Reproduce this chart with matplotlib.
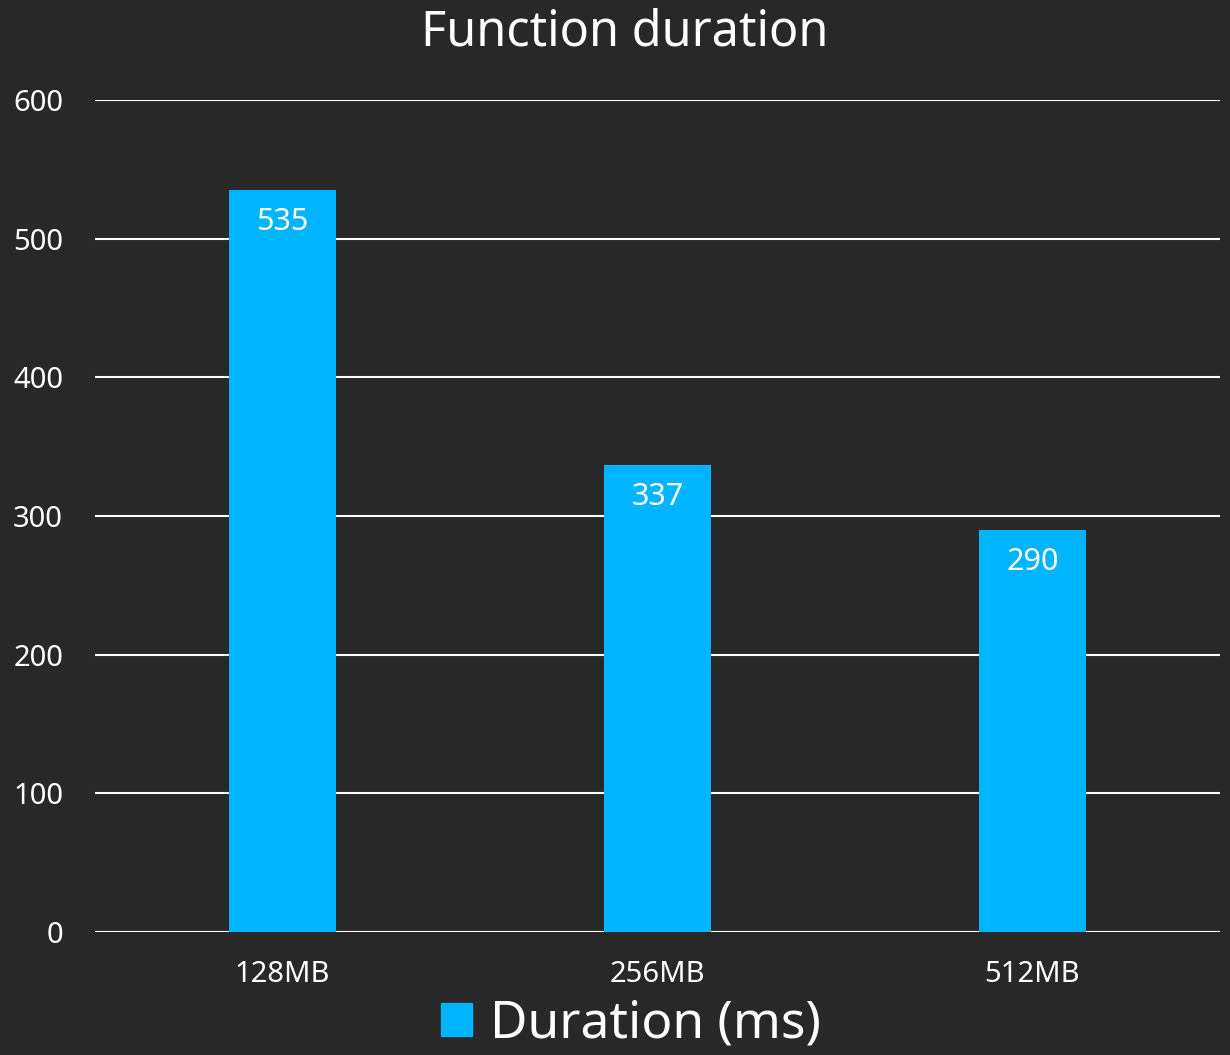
import matplotlib
matplotlib.use("Agg")
from matplotlib import pyplot as plt
from matplotlib.patches import Patch

categories = ["128MB", "256MB", "512MB"]
durations = [535, 337, 290]
yticks = [0, 100, 200, 300, 400, 500, 600]

bg = "#282828"
bar_color = "#00B4FF"

plt.rcParams["font.family"] = ["Noto Sans", "DejaVu Sans"]

fig = plt.figure(figsize=(12.3, 10.55), dpi=100, facecolor=bg)
ax = fig.add_axes([95 / 1230, 123 / 1055, 1125 / 1230, 832 / 1055])
ax.set_facecolor(bg)

x = range(len(categories))
bars = ax.bar(x, durations, width=0.283, color=bar_color, zorder=3)

for rect, v in zip(bars, durations):
    ax.annotate(str(v), (rect.get_x() + rect.get_width() / 2, v),
                xytext=(0, -23), textcoords="offset points",
                ha="center", va="center", color="white", fontsize=22, zorder=4)

ax.set_xlim(-0.5, 2.5)
ax.set_ylim(0, 600)
ax.set_yticks(yticks)
ax.set_xticks(list(x))
ax.set_xticklabels(categories)
ax.grid(axis="y", color="white", linewidth=1.5, zorder=1)
for s in ax.spines.values():
    s.set_visible(False)
ax.tick_params(axis="both", length=0, colors="white", labelsize=21)
ax.tick_params(axis="y", pad=23)
ax.tick_params(axis="x", pad=20)

fig.text(0.508, 1 - 33 / 1055, "Function duration", color="white", fontsize=35,
         ha="center", va="center")

fig.legend(handles=[Patch(color=bar_color, label="Duration (ms)")],
           loc="center", bbox_to_anchor=(0.513, 31 / 1055), frameon=False,
           fontsize=37, labelcolor="white", handlelength=0.6, handleheight=0.6,
           handletextpad=0.35, borderpad=0)

fig.savefig("out.png", dpi=100, facecolor=bg)
